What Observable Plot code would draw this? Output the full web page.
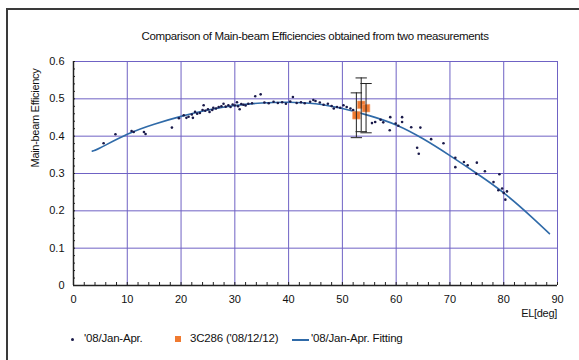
<!DOCTYPE html>
<html><head><meta charset="utf-8">
<script src="https://cdn.jsdelivr.net/npm/d3@7"></script>
<script src="https://cdn.jsdelivr.net/npm/@observablehq/plot@0.6"></script>
<style>
body{margin:0;background:#fff;font-family:"Liberation Sans",Arial,sans-serif;color:#111;}
#wrap{position:relative;width:579px;height:360px;overflow:hidden;background:#fff;}
#frame{position:absolute;left:6px;top:8px;width:600px;height:400px;border:2px solid #3a3a3a;box-sizing:border-box;}
.t{position:absolute;white-space:nowrap;}
#title{left:0;width:630px;text-align:center;top:30px;font-size:11.5px;letter-spacing:-0.35px;}
#ylab{left:35px;top:118px;font-size:11px;letter-spacing:-0.3px;transform:translate(-50%,-50%) rotate(-90deg);}
#xlab{right:22px;top:307px;font-size:11px;letter-spacing:-0.3px;}
.leg{top:332px;font-size:11.5px;letter-spacing:-0.2px;}
#chart{position:absolute;left:0;top:0;}
</style>
</head><body>
<div id="wrap">
<div id="frame"></div>
<div id="chart"></div>
<div class="t" id="title">Comparison of Main-beam Efficiencies obtained from two measurements</div>
<div class="t" id="ylab">Main-beam Efficiency</div>
<div class="t" id="xlab">EL[deg]</div>
<div class="t" style="left:71px;top:338px;width:3px;height:3px;background:#1a1a4a;border-radius:50%"></div>
<div class="t leg" style="left:84px">'08/Jan-Apr.</div>
<div class="t" style="left:175px;top:336px;width:6px;height:6px;background:#f07a30"></div>
<div class="t leg" style="left:190px">3C286 ('08/12/12)</div>
<div class="t" style="left:292px;top:339px;width:17px;height:1.5px;background:#2f6aa8"></div>
<div class="t leg" style="left:311px">'08/Jan-Apr. Fitting</div>
</div>
<script>
// Observed efficiencies, '08 Jan-Apr. (EL deg, efficiency)
const obsEL  = [5.6,7.8,10.8,11.2,13.1,13.4,18.3,19.6,20.5,21.0,21.4,22.0,22.2,22.6,23.0,23.5,24.0,24.2,24.5,25.0,25.3,25.8,26.0,26.5,27.0,27.5,27.9,28.3,28.8,29.2,29.6,30.0,30.4,30.6,30.9,31.2,31.6,32.0,32.5,33.2,33.8,34.8,35.5,36.3,37.2,38.0,38.8,39.5,40.3,40.8,41.5,42.3,43.0,44.0,44.6,45.0,45.8,46.5,47.3,48.0,48.4,49.0,49.6,50.2,50.8,51.5,52.0,55.5,56.1,57.1,57.6,58.9,58.8,59.9,60.4,61.1,61.1,62.8,64.5,63.9,64.2,66.5,68.8,71.0,71.0,72.6,73.3,75.0,74.9,76.5,78.1,79.2,79.0,79.7,80.0,80.3,80.6];
const obsEff = [0.381,0.405,0.414,0.411,0.411,0.406,0.423,0.448,0.456,0.449,0.452,0.458,0.449,0.465,0.460,0.462,0.470,0.483,0.468,0.472,0.465,0.470,0.476,0.474,0.478,0.480,0.487,0.479,0.483,0.478,0.485,0.482,0.491,0.480,0.472,0.486,0.484,0.482,0.487,0.488,0.507,0.512,0.490,0.488,0.492,0.489,0.491,0.487,0.493,0.505,0.489,0.491,0.488,0.492,0.497,0.494,0.490,0.484,0.487,0.481,0.474,0.478,0.476,0.483,0.478,0.474,0.470,0.435,0.438,0.444,0.437,0.451,0.416,0.434,0.428,0.451,0.438,0.424,0.423,0.369,0.353,0.392,0.381,0.342,0.317,0.331,0.322,0.329,0.299,0.306,0.277,0.298,0.255,0.260,0.248,0.230,0.252];
// 3C286 ('08/12/12)
const srcEL  = [52.6,53.5,54.4];
const srcEff = [0.456,0.484,0.475];
const srcErr = [0.060,0.072,0.066];
// Fitting curve '08 Jan-Apr.
const fitEL  = [3.5,5,10,15,20,25,30,35,40,45,50,55,60,65,70,75,80,85,88.5];
const fitEff = [0.360,0.369,0.405,0.432,0.453,0.470,0.482,0.489,0.491,0.487,0.474,0.455,0.430,0.393,0.348,0.300,0.248,0.186,0.139];
const xTicks = [0,10,20,30,40,50,60,70,80,90];
const yTicks = [0,0.1,0.2,0.3,0.4,0.5,0.6];
const xMinor = d3.range(0,91,2);
const yMinor = d3.range(0,0.601,0.02);

const obs = obsEL.map((x,i)=>({x,y:obsEff[i]}));
const src = srcEL.map((x,i)=>({x,y:srcEff[i],lo:srcEff[i]-srcErr[i],hi:srcEff[i]+srcErr[i]}));
const fit = fitEL.map((x,i)=>({x,y:fitEff[i]}));
const grid = "#6f62c4";
const cap = {draw(ctx,size){const w=Math.sqrt(size);ctx.moveTo(-w,0);ctx.lineTo(w,0);}};

const chart = Plot.plot({
  width:579, height:360,
  marginLeft:73, marginRight:22, marginTop:61, marginBottom:75,
  x:{domain:[0,90]}, y:{domain:[0,0.6]},
  style:{background:"transparent",fontFamily:"Liberation Sans, Arial, sans-serif",fontSize:"11px",color:"#111"},
  marks:[
    Plot.gridX(xTicks,{stroke:grid,strokeOpacity:1,strokeWidth:1}),
    Plot.gridY(yTicks,{stroke:grid,strokeOpacity:1,strokeWidth:1}),
    Plot.axisX(xMinor,{tickSize:-3,text:null,stroke:"#222",label:null}),
    Plot.axisY(yMinor,{tickSize:-2,text:null,stroke:"#222",label:null}),
    Plot.axisX(xTicks,{tickSize:0,tickPadding:10,label:null,tickFormat:d=>String(d)}),
    Plot.axisY(yTicks,{tickSize:0,tickPadding:9,label:null,tickFormat:d=>d===0?"0":d.toFixed(1)}),
    Plot.ruleX([0],{stroke:"#222",strokeWidth:1.5}),
    Plot.ruleY([0],{stroke:"#222",strokeWidth:1.5}),
    Plot.line(fit,{x:"x",y:"y",curve:"natural",stroke:"#2f6aa8",strokeWidth:1.6}),
    Plot.dot(obs,{x:"x",y:"y",r:1.3,fill:"#1a1a4a"}),
    Plot.dot(src,{x:"x",y:"y",symbol:"square",r:4.3,fill:"#f07a30",stroke:"#f6a878",strokeWidth:0.6}),
    Plot.ruleX(src,{x:"x",y1:"lo",y2:"hi",stroke:"#222",strokeWidth:1}),
    Plot.dot(src,{x:"x",y:"hi",symbol:cap,r:3.2,stroke:"#222",strokeWidth:1,fill:"none"}),
    Plot.dot(src,{x:"x",y:"lo",symbol:cap,r:3.2,stroke:"#222",strokeWidth:1,fill:"none"})
  ]
});
document.getElementById("chart").appendChild(chart);
</script>
</body></html>
